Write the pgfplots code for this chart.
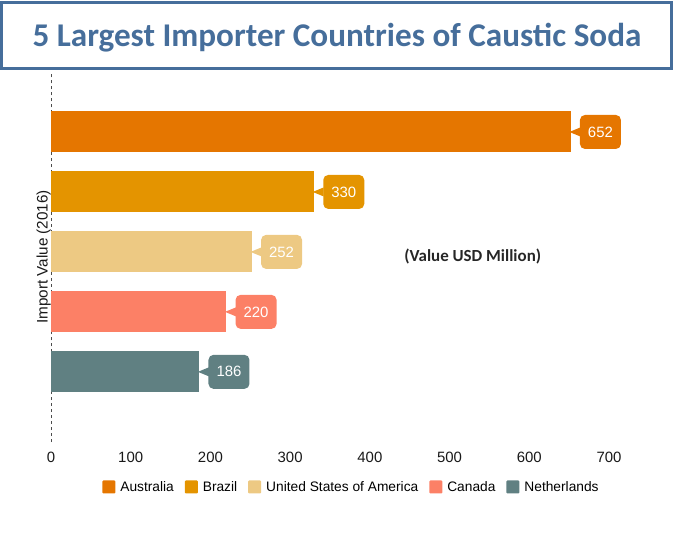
\documentclass[border=0pt]{standalone}
\usepackage{pgfplots}
\pgfplotsset{compat=1.18}
\usepackage{fontspec}
\setmainfont{Liberation Sans}
\newfontfamily\titlefont{Carlito}
\usetikzlibrary{shapes.geometric}
\definecolor{cAus}{RGB}{229,118,0}
\definecolor{cBra}{RGB}{228,148,0}
\definecolor{cUSA}{RGB}{237,201,131}
\definecolor{cCan}{RGB}{252,128,102}
\definecolor{cNet}{RGB}{96,128,130}
\definecolor{cTitle}{RGB}{70,110,155}
\tikzset{callcol/.style={fill=#1, label={[isosceles triangle, isosceles triangle stretches, shape border rotate=180, sharp corners, fill=#1, draw=none, inner sep=0pt, outer sep=0pt, minimum width=9bp, minimum height=11bp, anchor=east, label distance=-0.6bp]west:{}}}}
\begin{document}
\begin{tikzpicture}
\path[use as bounding box] (0,0) rectangle (674bp,-535bp);
\draw[cTitle, line width=3bp] (1.5bp,-2.5bp) rectangle (671.5bp,-68.5bp);
\node[cTitle, font=\titlefont\bfseries\fontsize{33.3}{33.3}\selectfont] at (337bp,-38bp) {5 Largest Importer Countries of Caustic Soda};
\begin{axis}[
  at={(51bp,-442bp)}, anchor=south west,
  scale only axis, width=558bp, height=370bp,
  xmin=0, xmax=700, ymin=-1.17, ymax=5,
  xbar, bar width=41bp, bar shift=0pt,
  axis lines=left,
  x axis line style={draw=none},
  y axis line style={draw=black!70, dashed, -},
  xtick={0,100,...,700}, ytick=\empty,
  major tick length=0pt,
  /pgf/number format/assume math mode=true,
  x tick label style={font=\fontsize{15}{15}\selectfont, text=black!90, yshift=-7bp},
  ylabel={Import Value (2016)},
  ylabel style={at={(axis description cs:0,0.5)}, anchor=south, inner sep=0pt, font=\fontsize{15.3}{15.3}\selectfont, text=black!90},
  nodes near coords,
  every node near coord/.append style={rectangle, anchor=west, xshift=9bp, rounded corners=5bp, minimum width=41bp, minimum height=34bp, inner sep=0pt, text=white, font=\fontsize{15}{15}\selectfont},
  legend style={at={(0.5385,-0.1216)}, anchor=center, draw=none, fill=none, font=\fontsize{13.8}{13.8}\selectfont, nodes={inner sep=2bp}, /tikz/every odd column/.append style={column sep=3bp}, /tikz/every even column/.append style={column sep=9bp}},
  legend columns=-1,
  legend image code/.code={\fill[#1,rounded corners=1bp] (0bp,-6.5bp) rectangle (13bp,6.5bp);},
]
\addplot[fill=cAus, draw=none, every node near coord/.append style={callcol=cAus}] coordinates {(652,4)};
\addplot[fill=cBra, draw=none, every node near coord/.append style={callcol=cBra}] coordinates {(330,3)};
\addplot[fill=cUSA, draw=none, every node near coord/.append style={callcol=cUSA}] coordinates {(252,2)};
\addplot[fill=cCan, draw=none, every node near coord/.append style={callcol=cCan}] coordinates {(220,1)};
\addplot[fill=cNet, draw=none, every node near coord/.append style={callcol=cNet}] coordinates {(186,0)};
\legend{Australia, Brazil, United States of America, Canada, Netherlands}
\node[font=\titlefont\bfseries\fontsize{17}{17}\selectfont, text=black!85] at (axis cs:529,1.93) {(Value USD Million)};
\end{axis}
\end{tikzpicture}
\end{document}
